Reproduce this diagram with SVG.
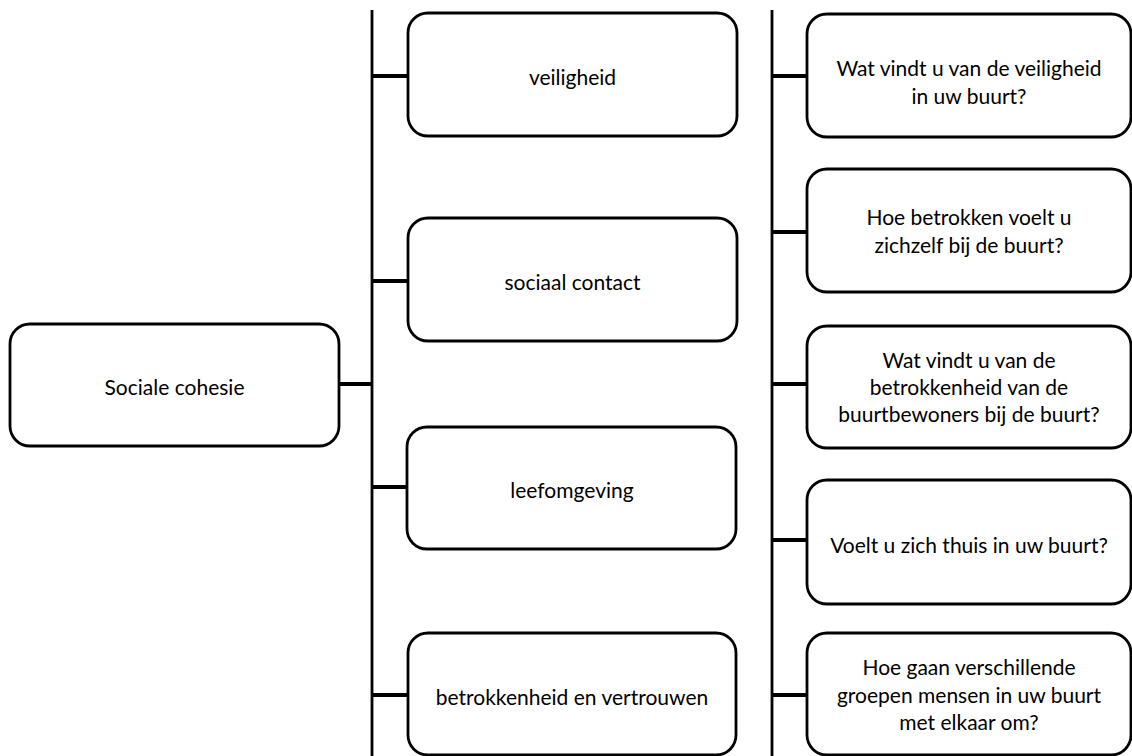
<svg xmlns="http://www.w3.org/2000/svg" width="1132" height="756" viewBox="0 0 1132 756">
<style>
.box{fill:#fff;stroke:#000;stroke-width:2.8}
.spine{stroke:#000;stroke-width:2.8;fill:none}
.tick{stroke:#000;stroke-width:4;fill:none}
.lbl{font-family:Lato,"Liberation Sans",sans-serif;font-size:21px;fill:#000;text-anchor:middle}
</style>
<rect width="1132" height="756" fill="#fff"/>
<g id="connectors">
<line class="spine" x1="372" y1="10" x2="372" y2="756"/>
<line class="spine" x1="772" y1="10" x2="772" y2="756"/>
<line class="tick" x1="339" y1="384" x2="372" y2="384"/>
<line class="tick" x1="372" y1="76" x2="408" y2="76"/>
<line class="tick" x1="372" y1="281" x2="408" y2="281"/>
<line class="tick" x1="372" y1="487" x2="407" y2="487"/>
<line class="tick" x1="372" y1="695" x2="408" y2="695"/>
<line class="tick" x1="772" y1="76" x2="807" y2="76"/>
<line class="tick" x1="772" y1="232" x2="807" y2="232"/>
<line class="tick" x1="772" y1="384" x2="807" y2="384"/>
<line class="tick" x1="772" y1="540" x2="807" y2="540"/>
<line class="tick" x1="772" y1="695" x2="807" y2="695"/>
</g>
<g id="root">
<rect class="box" x="10" y="324" width="329" height="122" rx="20"/>
<text class="lbl" x="174.5" y="395">Sociale cohesie</text>
</g>
<g id="veiligheid">
<rect class="box" x="408" y="13" width="329" height="123" rx="20"/>
<text class="lbl" x="572.5" y="85">veiligheid</text>
</g>
<g id="sociaal-contact">
<rect class="box" x="408" y="218" width="329" height="123" rx="20"/>
<text class="lbl" x="572.5" y="290">sociaal contact</text>
</g>
<g id="leefomgeving">
<rect class="box" x="407" y="427" width="329" height="122" rx="20"/>
<text class="lbl" x="572" y="498">leefomgeving</text>
</g>
<g id="betrokkenheid">
<rect class="box" x="408" y="633" width="328" height="122" rx="20"/>
<text class="lbl" x="572" y="705">betrokkenheid en vertrouwen</text>
</g>
<g id="q1">
<rect class="box" x="807" y="14" width="324" height="123" rx="20"/>
<text class="lbl" x="969" y="76">Wat vindt u van de veiligheid</text>
<text class="lbl" x="969" y="104">in uw buurt?</text>
</g>
<g id="q2">
<rect class="box" x="807" y="169" width="324" height="123" rx="20"/>
<text class="lbl" x="969" y="225">Hoe betrokken voelt u</text>
<text class="lbl" x="969" y="253">zichzelf bij de buurt?</text>
</g>
<g id="q3">
<rect class="box" x="807" y="326" width="324" height="122" rx="20"/>
<text class="lbl" x="969" y="368">Wat vindt u van de</text>
<text class="lbl" x="969" y="395">betrokkenheid van de</text>
<text class="lbl" x="969" y="422">buurtbewoners bij de buurt?</text>
</g>
<g id="q4">
<rect class="box" x="807" y="480" width="324" height="124" rx="20"/>
<text class="lbl" x="969" y="553">Voelt u zich thuis in uw buurt?</text>
</g>
<g id="q5">
<rect class="box" x="807" y="633" width="324" height="122" rx="20"/>
<text class="lbl" x="969" y="675">Hoe gaan verschillende</text>
<text class="lbl" x="969" y="703">groepen mensen in uw buurt</text>
<text class="lbl" x="969" y="730">met elkaar om?</text>
</g>
</svg>
